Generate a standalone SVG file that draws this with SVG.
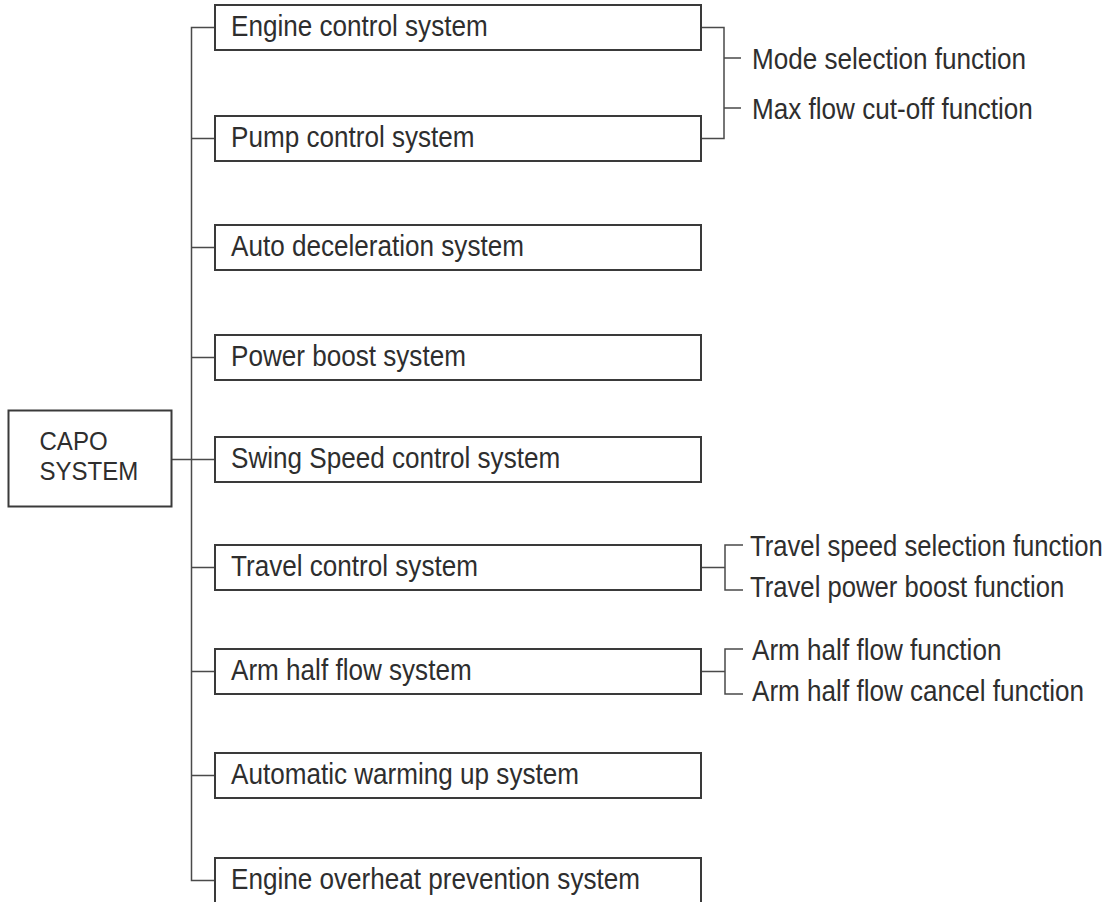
<svg xmlns="http://www.w3.org/2000/svg" width="1113" height="902" viewBox="0 0 1113 902">
<style>
.box{fill:#fff;stroke:#3a3a3a;stroke-width:2}
.t{font-family:"Liberation Sans",Arial,sans-serif;font-size:29px;fill:#2e2e2e}
.c{font-family:"Liberation Sans",Arial,sans-serif;font-size:26px;fill:#2e2e2e}
.ln{fill:none;stroke:#4a4a4a;stroke-width:1.5}
</style>
<rect width="1113" height="902" fill="#fff"/>
<g id="connectors">
<path class="ln" d="M215 27.5H191.5V880.5H215"/>
<path class="ln" d="M191.5 138.5H215M191.5 247.5H215M191.5 357.5H215M171.5 459.5H215M191.5 567.5H215M191.5 671.5H215M191.5 775.5H215"/>
<path class="ln" d="M701 27.5H724V138.5H701M724 58H741M724 108H741"/>
<path class="ln" d="M701 567.5H725M743 545H725V590H743"/>
<path class="ln" d="M701 671.5H725M743 649H725V694H743"/>
</g>
<g id="capo"><rect class="box" x="8.5" y="410.5" width="163" height="96"/>
<text class="c" transform="translate(39.5,450) scale(0.925,1)">CAPO</text>
<text class="c" transform="translate(39.5,479.5) scale(0.925,1)">SYSTEM</text></g>
<g id="engine"><rect class="box" x="215" y="5" width="486" height="45"/><text class="t" transform="translate(231,36) scale(0.9,1)">Engine control system</text></g>
<g id="pump"><rect class="box" x="215" y="116" width="486" height="45"/><text class="t" transform="translate(231,147) scale(0.9,1)">Pump control system</text></g>
<g id="autodecel"><rect class="box" x="215" y="225" width="486" height="45"/><text class="t" transform="translate(231,256) scale(0.9,1)">Auto deceleration system</text></g>
<g id="powerboost"><rect class="box" x="215" y="335" width="486" height="45"/><text class="t" transform="translate(231,366) scale(0.9,1)">Power boost system</text></g>
<g id="swing"><rect class="box" x="215" y="437" width="486" height="45"/><text class="t" transform="translate(231,468) scale(0.9,1)">Swing Speed control system</text></g>
<g id="travel"><rect class="box" x="215" y="545" width="486" height="45"/><text class="t" transform="translate(231,576) scale(0.9,1)">Travel control system</text></g>
<g id="arm"><rect class="box" x="215" y="649" width="486" height="45"/><text class="t" transform="translate(231,680) scale(0.9,1)">Arm half flow system</text></g>
<g id="warming"><rect class="box" x="215" y="753" width="486" height="45"/><text class="t" transform="translate(231,784) scale(0.9,1)">Automatic warming up system</text></g>
<g id="overheat"><rect class="box" x="215" y="858" width="486" height="45"/><text class="t" transform="translate(231,889) scale(0.9,1)">Engine overheat prevention system</text></g>
<g id="mode"><text class="t" transform="translate(752,69) scale(0.9,1)">Mode selection function</text></g>
<g id="maxflow"><text class="t" transform="translate(752,119) scale(0.9,1)">Max flow cut-off function</text></g>
<g id="travelspeed"><text class="t" transform="translate(750,556) scale(0.885,1)">Travel speed selection function</text></g>
<g id="travelpower"><text class="t" transform="translate(750,597) scale(0.885,1)">Travel power boost function</text></g>
<g id="armhalf"><text class="t" transform="translate(752,660) scale(0.9,1)">Arm half flow function</text></g>
<g id="armcancel"><text class="t" transform="translate(752,701) scale(0.9,1)">Arm half flow cancel function</text></g>
</svg>
